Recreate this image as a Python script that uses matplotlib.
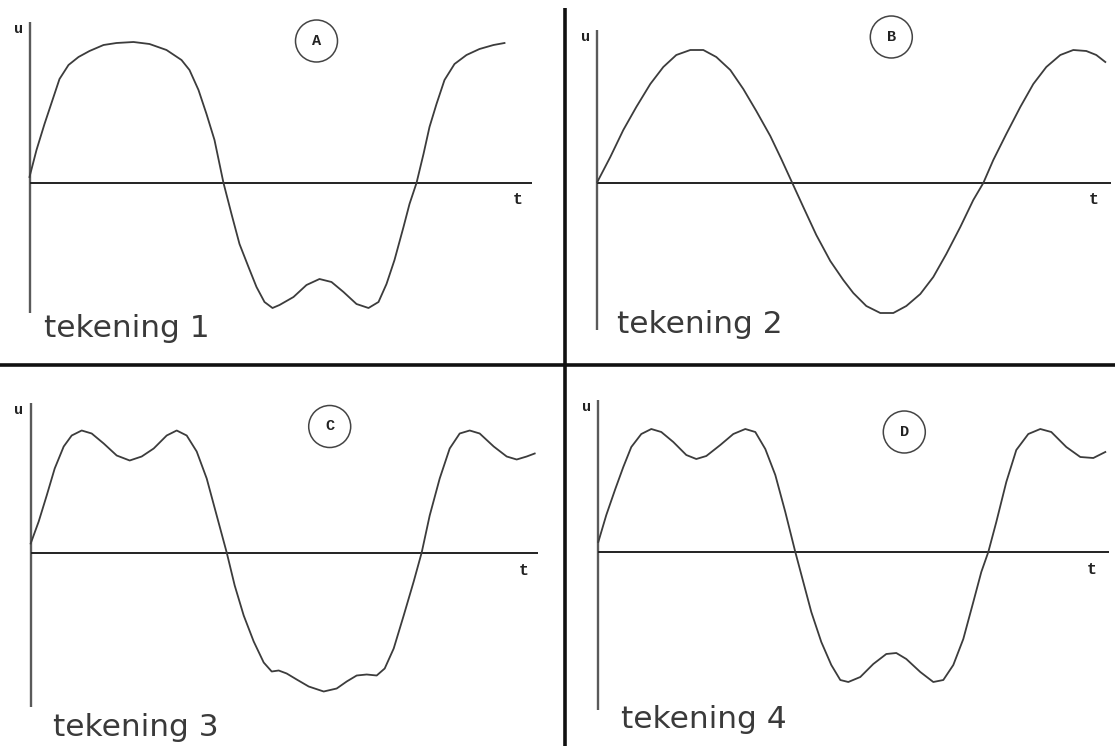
import matplotlib
matplotlib.use("Agg")
import matplotlib.pyplot as plt
from matplotlib.patches import Circle

# waveforms: t = time (px from origin), u = voltage (px above axis)
t_a = [0, 7, 15, 24, 30, 39, 49, 60, 74, 87, 104, 120, 137, 152, 160, 169, 177, 185, 194, 202,
       210, 219, 227, 235, 243, 250, 264, 277, 290, 302, 314, 327, 339, 349, 357, 365, 374, 380,
       387, 394, 400, 407, 415, 425, 437, 450, 464, 475]
u_a = [6, 33, 59, 86, 104, 118, 126, 132, 138, 140, 141, 139, 133, 123, 113, 93, 69, 43, 0, -31,
       -61, -84, -104, -119, -125, -122, -114, -102, -96, -99, -109, -121, -125, -119, -101, -77, -44, -21,
       0, 29, 56, 79, 103, 119, 128, 134, 138, 140]

t_b = [0, 13, 26, 39, 53, 66, 79, 93, 106, 119, 133, 146, 159, 173, 184, 195, 206, 219, 233, 246,
       256, 269, 283, 296, 309, 323, 336, 349, 363, 376, 386, 396, 409, 423, 436, 449, 463, 476, 489,
       499, 508]
u_b = [1, 26, 53, 76, 99, 116, 128, 133, 133, 126, 113, 94, 72, 47, 24, 0, -24, -52, -78, -97,
       -110, -123, -130, -130, -123, -111, -94, -71, -44, -17, 0, 23, 49, 76, 99, 116, 128, 133, 132,
       128, 121]

t_c = [0, 8, 16, 24, 33, 41, 51, 61, 73, 86, 99, 111, 123, 136, 146, 156, 166, 176, 186, 196,
       204, 213, 223, 233, 241, 248, 256, 266, 278, 293, 306, 316, 326, 336, 346, 354, 363, 373, 383,
       391, 399, 409, 419, 429, 439, 449, 463, 476, 486, 496, 504]
u_c = [9, 31, 57, 84, 106, 117, 122, 119, 109, 97, 92, 96, 104, 117, 122, 117, 101, 74, 37, 0,
       -33, -63, -89, -110, -119, -118, -121, -127, -134, -139, -136, -129, -123, -122, -123, -116, -96, -63, -29,
       0, 37, 74, 104, 119, 122, 119, 106, 96, 93, 96, 99]

t_d = [0, 8, 17, 25, 33, 43, 53, 63, 75, 88, 98, 108, 122, 135, 147, 157, 167, 177, 187, 197,
       205, 213, 223, 233, 242, 250, 262, 275, 288, 298, 308, 322, 335, 345, 355, 365, 375, 383, 390,
       398, 408, 418, 430, 442, 453, 468, 482, 495, 507]
u_d = [10, 37, 63, 85, 105, 118, 123, 120, 110, 97, 93, 96, 107, 118, 123, 120, 103, 77, 40, 0,
       -30, -60, -90, -113, -128, -130, -125, -112, -102, -101, -107, -120, -130, -128, -113, -87, -50, -20, 0,
       30, 70, 102, 118, 123, 120, 105, 95, 94, 100]

letters = ["A", "B", "C", "D"]
captions = ["tekening 1", "tekening 2", "tekening 3", "tekening 4"]

W, H = 1115, 746
fig = plt.figure(figsize=(W / 100, H / 100), dpi=100)
fig.patch.set_facecolor("white")

# panel layout in pixels: (left, top, right, bottom, origin_x, origin_y)
panels = [
    (0, 0, 565, 365, 29.5, 183),
    (565, 0, 1115, 365, 597.3, 183),
    (0, 365, 565, 746, 30.7, 552.5),
    (565, 365, 1115, 746, 598.3, 552),
]
# axis extents (u top, u bottom, t end), circle centre, u/t label spots, caption baseline
axis_ext = [(161, -130, 502), (153, -147, 514), (150, -154, 507), (152, -158, 511)]
circle_pos = [(287, 142), (294, 146), (299, 126), (306, 120)]
u_pos = [(-11, 154), (-12, 146), (-12, 143), (-12, 145)]
t_pos = [(488, -17), (496, -16), (493, -18), (493, -18)]
cap_pos = [(15, -154), (20, -150), (22, -183), (23, -176)]

series = [(t_a, u_a), (t_b, u_b), (t_c, u_c), (t_d, u_d)]

for i, (l, tp, r, b, ox, oy) in enumerate(panels):
    ax = fig.add_axes([l / W, 1 - b / H, (r - l) / W, (b - tp) / H])
    ax.set_xlim(l - ox, r - ox)
    ax.set_ylim(oy - b, oy - tp)
    ax.axis("off")

    top, bot, tend = axis_ext[i]
    ax.plot([0, 0], [top, bot], color="#5a5a5a", lw=1.7, solid_capstyle="butt")
    ax.plot([0, tend], [0, 0], color="#222222", lw=1.4, solid_capstyle="butt")

    t, u = series[i]
    ax.plot(t, u, color="#3c3c3c", lw=1.3, solid_joinstyle="round")

    ax.add_patch(Circle(circle_pos[i], 21, fill=False, ec="#444444", lw=1.1))
    ax.text(circle_pos[i][0], circle_pos[i][1], letters[i], ha="center", va="center",
            fontsize=11, fontweight="bold", family="Liberation Mono", color="#222222")
    ax.text(u_pos[i][0], u_pos[i][1], "u", ha="center", va="center",
            fontsize=11, fontweight="bold", family="Liberation Mono", color="#222222")
    ax.text(t_pos[i][0], t_pos[i][1], "t", ha="center", va="center",
            fontsize=12, fontweight="bold", family="Liberation Mono", color="#222222")
    ax.text(cap_pos[i][0], cap_pos[i][1], captions[i], ha="left", va="baseline",
            fontsize=22.5, family="DejaVu Sans", color="#3a3a3a")

# separators between the four drawings
bg = fig.add_axes([0, 0, 1, 1], zorder=-1)
bg.set_xlim(0, W)
bg.set_ylim(H, 0)
bg.axis("off")
bg.plot([0, W], [365, 365], color="#111111", lw=2.6, solid_capstyle="butt")
bg.plot([565, 565], [8, H], color="#111111", lw=2.6, solid_capstyle="butt")

fig.savefig("out.png", dpi=100, facecolor="white")
